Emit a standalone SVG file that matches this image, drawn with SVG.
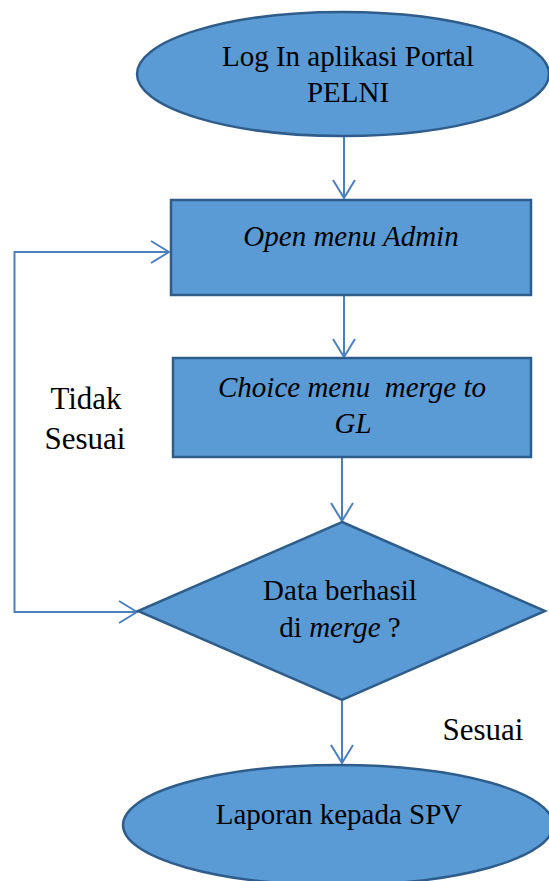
<svg xmlns="http://www.w3.org/2000/svg" width="549" height="881" viewBox="0 0 549 881" font-family="Liberation Serif, Times New Roman, serif">
<style>
.node{fill:#5b9bd5;stroke:#2f5d8b;stroke-width:2.5}
.t{font-size:29px;fill:#000;text-anchor:middle}
.lbl{font-size:31px;fill:#000;text-anchor:middle}
.i{font-style:italic}
.c{fill:none;stroke:#4a7fc0;stroke-width:2}
</style>
<defs>
<marker id="arr" viewBox="0 0 20 24" refX="19" refY="12" markerWidth="20" markerHeight="24" markerUnits="userSpaceOnUse" orient="auto">
<path d="M1,1 L19,12 L1,23" fill="none" stroke="#4a7fc0" stroke-width="2"/>
</marker>
</defs>
<rect width="549" height="881" fill="#fff"/>
<g id="connectors">
<path class="c" d="M344,137 V198" marker-end="url(#arr)"/>
<path class="c" d="M344,296 V357" marker-end="url(#arr)"/>
<path class="c" d="M342,458 V521" marker-end="url(#arr)"/>
<path class="c" d="M342,701 V763" marker-end="url(#arr)"/>
<path class="c" d="M138,612 H14.5 V252 H169" marker-end="url(#arr)"/>
<path class="c" d="M14.5,612 H137" marker-end="url(#arr)"/>
</g>
<g id="start">
<ellipse class="node" cx="343" cy="74" rx="206" ry="62"/>
<text class="t" x="348" y="66" font-family="Liberation Serif">Log In aplikasi Portal</text>
<text class="t" x="348" y="102" font-family="Liberation Serif">PELNI</text>
</g>
<g id="open-admin">
<rect class="node" x="171" y="200" width="360" height="95"/>
<text class="t i" x="351" y="246" font-family="Liberation Serif">Open menu Admin</text>
</g>
<g id="choice-merge">
<rect class="node" x="173" y="358" width="358" height="99"/>
<text class="t i" x="352" y="397" xml:space="preserve" font-family="Liberation Serif">Choice menu  merge to</text>
<text class="t i" x="353" y="433" font-family="Liberation Serif">GL</text>
</g>
<g id="decision">
<polygon class="node" points="342,522 545,611 342,700 138,611"/>
<text class="t" x="340" y="600" font-family="Liberation Serif">Data berhasil</text>
<text class="t" x="340" y="637" font-family="Liberation Serif">di <tspan class="i">merge</tspan> ?</text>
</g>
<g id="end">
<ellipse class="node" cx="338" cy="825" rx="215" ry="60"/>
<text class="t" x="339" y="824" font-family="Liberation Serif">Laporan kepada SPV</text>
</g>
<g id="labels">
<text class="lbl" x="86" y="409" font-family="Liberation Serif">Tidak</text>
<text class="lbl" x="85" y="449" font-family="Liberation Serif">Sesuai</text>
<text class="lbl" x="483" y="740" font-family="Liberation Serif">Sesuai</text>
</g>
</svg>
